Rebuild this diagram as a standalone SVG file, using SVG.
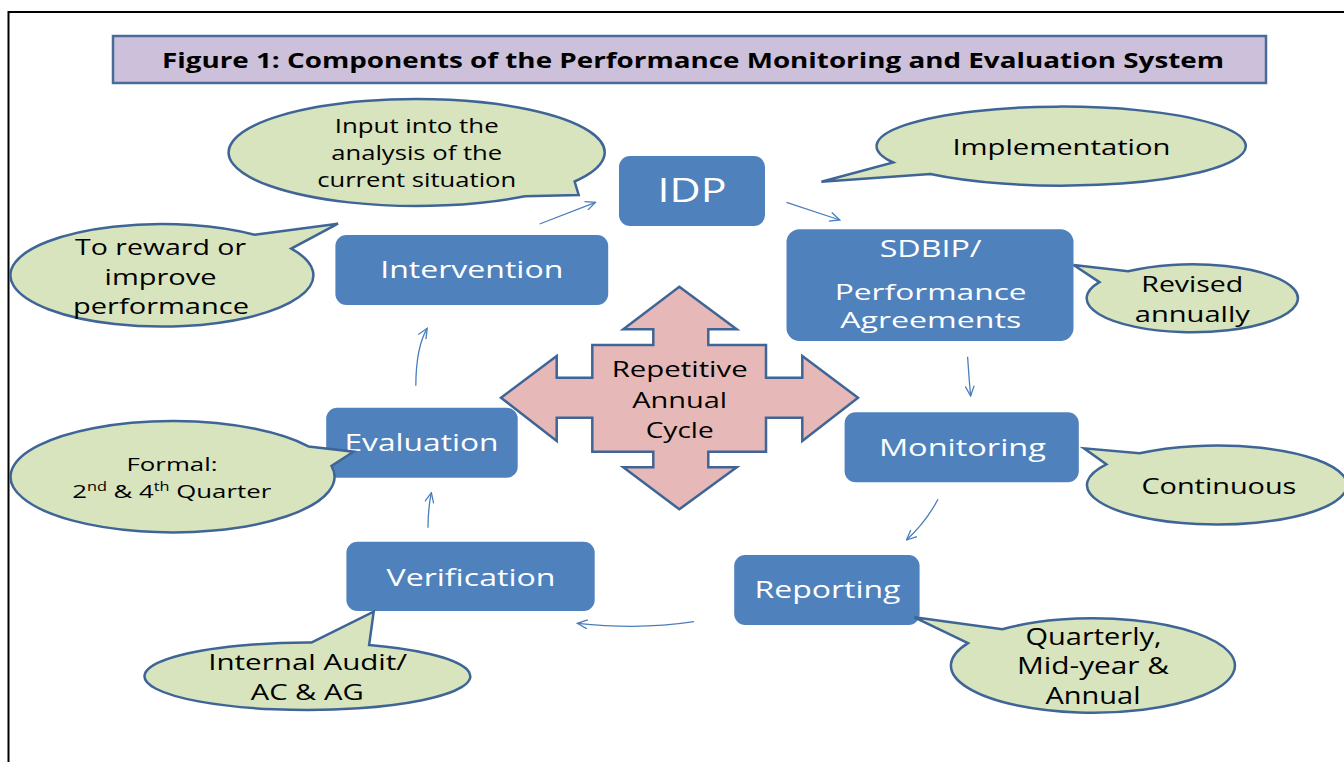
<svg xmlns="http://www.w3.org/2000/svg" width="1344" height="762" viewBox="0 0 1344 762">
<defs>
<style>
text{font-family:"Open Sans","Liberation Sans",sans-serif;text-anchor:middle}
.box{fill:#4f81bd}
.bt{fill:#ffffff;font-size:24px}
.call{fill:#d7e4bd;stroke:#3f6596;stroke-width:2.5;stroke-linejoin:miter}
.ct{fill:#000000;font-size:22px}
.con{fill:none;stroke:#4a7ebb;stroke-width:1.3;marker-end:url(#ah)}
</style>
<marker id="ah" viewBox="0 0 12 10" refX="11" refY="5" markerWidth="12" markerHeight="10" markerUnits="userSpaceOnUse" orient="auto">
<path d="M1,0.5 L11,5 L1,9.5" fill="none" stroke="#4a7ebb" stroke-width="1.3"/>
</marker>
</defs>
<rect width="1344" height="762" fill="#ffffff"/>
<path d="M8.5,762 V12 H1344" fill="none" stroke="#000000" stroke-width="2"/>

<g id="title">
<rect x="113" y="36" width="1153" height="47" fill="#ccc0da" stroke="#4a6b9a" stroke-width="2.5"/>
<text x="693" y="68.3" font-size="21" font-weight="bold" textLength="1062" lengthAdjust="spacingAndGlyphs">Figure 1: Components of the Performance Monitoring and Evaluation System</text>
</g>

<g id="connectors">
<path class="con" d="M539.6,224 L595.5,202.3"/>
<path class="con" d="M786.5,202.3 L839.8,220"/>
<path class="con" d="M967.6,356.7 Q969,378 970.6,396"/>
<path class="con" d="M938,499.3 Q926,522 906.5,540"/>
<path class="con" d="M694,621.7 Q640,630 577.4,623.3"/>
<path class="con" d="M428,527.7 Q428,508 431.4,492.7"/>
<path class="con" d="M415.8,385.7 Q416,347 427.2,328.3"/>
</g>

<g id="cycle">
<polygon points="679.3,286.7 736.7,329.3 708.3,329.3 708.3,345 766,345 766,377.7 802.3,377.7 802.3,356 858,397.7 802.3,441 802.3,417.7 766,417.7 766,451.7 708.3,451.7 708.3,467.3 736.7,467.3 679.3,509.3 623.3,467.3 653.3,467.3 653.3,451.7 592.3,451.7 592.3,417.7 556.7,417.7 556.7,441 501,397.7 556.7,356 556.7,377.7 592.3,377.7 592.3,345 653.3,345 653.3,329.3 623.3,329.3" fill="#e6b9b8" stroke="#3f6596" stroke-width="2.5" stroke-linejoin="miter"/>
<text x="679.7" y="376.7" font-size="21" textLength="136" lengthAdjust="spacingAndGlyphs">Repetitive</text>
<text x="679.7" y="407.7" font-size="21" textLength="95" lengthAdjust="spacingAndGlyphs">Annual</text>
<text x="679.7" y="437.7" font-size="21" textLength="68" lengthAdjust="spacingAndGlyphs">Cycle</text>
</g>

<g id="idp">
<rect class="box" x="619" y="156" width="146" height="70" rx="11"/>
<text class="bt" x="692" y="201.7" style="font-size:33px" textLength="69" lengthAdjust="spacingAndGlyphs">IDP</text>
</g>

<g id="sdbip">
<rect class="box" x="786.5" y="229.3" width="287" height="111.7" rx="13"/>
<text class="bt" x="930.7" y="256.7" style="font-size:23px" textLength="102" lengthAdjust="spacingAndGlyphs">SDBIP/</text>
<text class="bt" x="930.7" y="300" style="font-size:22px" textLength="192" lengthAdjust="spacingAndGlyphs">Performance</text>
<text class="bt" x="930.7" y="328.3" style="font-size:22px" textLength="181" lengthAdjust="spacingAndGlyphs">Agreements</text>
</g>

<g id="monitoring">
<rect class="box" x="844.6" y="412.3" width="234.2" height="70" rx="11"/>
<text class="bt" x="962.4" y="456" textLength="167" lengthAdjust="spacingAndGlyphs">Monitoring</text>
</g>

<g id="reporting">
<rect class="box" x="734.2" y="555" width="185.4" height="70" rx="11"/>
<text class="bt" x="827.5" y="598.3" textLength="146" lengthAdjust="spacingAndGlyphs">Reporting</text>
</g>

<g id="verification">
<rect class="box" x="346.4" y="541.7" width="248.3" height="69.3" rx="11"/>
<text class="bt" x="471" y="585.7" textLength="169" lengthAdjust="spacingAndGlyphs">Verification</text>
</g>

<g id="evaluation">
<rect class="box" x="326.2" y="407.7" width="191.5" height="70" rx="11"/>
<text class="bt" x="421.5" y="451" textLength="154" lengthAdjust="spacingAndGlyphs">Evaluation</text>
</g>

<g id="intervention">
<rect class="box" x="335.4" y="235" width="272.8" height="70" rx="11"/>
<text class="bt" x="471.8" y="278.3" textLength="183" lengthAdjust="spacingAndGlyphs">Intervention</text>
</g>

<g id="callout-input">
<path class="call" d="M574.6,181.5 L578.7,195 L525,196.2 A188,53.5 0 1 1 574.6,181.5 Z"/>
<text class="ct" x="416.7" y="133.3" style="font-size:20px" textLength="164" lengthAdjust="spacingAndGlyphs">Input into the</text>
<text class="ct" x="416.7" y="160" style="font-size:20px" textLength="171" lengthAdjust="spacingAndGlyphs">analysis of the</text>
<text class="ct" x="416.7" y="186.7" style="font-size:20px" textLength="199" lengthAdjust="spacingAndGlyphs">current situation</text>
</g>

<g id="callout-reward">
<path class="call" d="M254.6,234.7 L338,223.7 L291.3,248.6 A151.5,51.3 0 1 1 254.6,234.7 Z"/>
<text class="ct" x="160.6" y="255" textLength="171" lengthAdjust="spacingAndGlyphs">To reward or</text>
<text class="ct" x="160.6" y="285" textLength="112" lengthAdjust="spacingAndGlyphs">improve</text>
<text class="ct" x="161" y="314.3" textLength="176" lengthAdjust="spacingAndGlyphs">performance</text>
</g>

<g id="callout-implementation">
<path class="call" d="M930.4,174 L821.4,181.7 L893.2,162.5 A184.6,39.5 0 1 1 930.4,174 Z"/>
<text class="ct" x="1061.4" y="155" textLength="218" lengthAdjust="spacingAndGlyphs">Implementation</text>
</g>

<g id="callout-revised">
<path class="call" d="M1099.4,282.1 L1073.6,265 L1128,271.3 A105.6,34 0 1 1 1099.4,282.1 Z"/>
<text class="ct" x="1192.3" y="291.7" style="font-size:21px" textLength="102" lengthAdjust="spacingAndGlyphs">Revised</text>
<text class="ct" x="1192.3" y="321.7" style="font-size:21px" textLength="115" lengthAdjust="spacingAndGlyphs">annually</text>
</g>

<g id="callout-continuous">
<path class="call" d="M1106.3,464.3 L1084,448.3 L1139.5,453.3 A130,39.5 0 1 1 1106.3,464.3 Z"/>
<text class="ct" x="1218.9" y="494" textLength="155" lengthAdjust="spacingAndGlyphs">Continuous</text>
</g>

<g id="callout-quarterly">
<path class="call" d="M968,643.1 L914.4,617.3 L1002.3,629.2 A142,47.2 0 1 1 968,643.1 Z"/>
<text class="ct" x="1093.5" y="645" style="font-size:23px" textLength="136" lengthAdjust="spacingAndGlyphs">Quarterly,</text>
<text class="ct" x="1093" y="674.3" style="font-size:23px" textLength="152" lengthAdjust="spacingAndGlyphs">Mid-year &amp;</text>
<text class="ct" x="1093" y="704.3" style="font-size:23px" textLength="95" lengthAdjust="spacingAndGlyphs">Annual</text>
</g>

<g id="callout-audit">
<path class="call" d="M311.3,642.6 L373.7,611.7 L369.1,645.1 A162.9,33.7 0 1 1 311.3,642.6 Z"/>
<text class="ct" x="307.7" y="670" textLength="199" lengthAdjust="spacingAndGlyphs">Internal Audit/</text>
<text class="ct" x="307.2" y="700" textLength="113" lengthAdjust="spacingAndGlyphs">AC &amp; AG</text>
</g>

<g id="callout-formal">
<path class="call" d="M308.4,446.4 L353.5,451.7 L331.5,466 A162,55.7 0 1 1 308.4,446.4 Z"/>
<text class="ct" x="172" y="471" style="font-size:19px" textLength="91" lengthAdjust="spacingAndGlyphs">Formal:</text>
<text class="ct" x="171.7" y="497.7" style="font-size:19px" textLength="199" lengthAdjust="spacingAndGlyphs">2<tspan font-size="12" dy="-7">nd</tspan><tspan dy="7"> &amp; 4</tspan><tspan font-size="12" dy="-7">th</tspan><tspan dy="7"> Quarter</tspan></text>
</g>
</svg>
